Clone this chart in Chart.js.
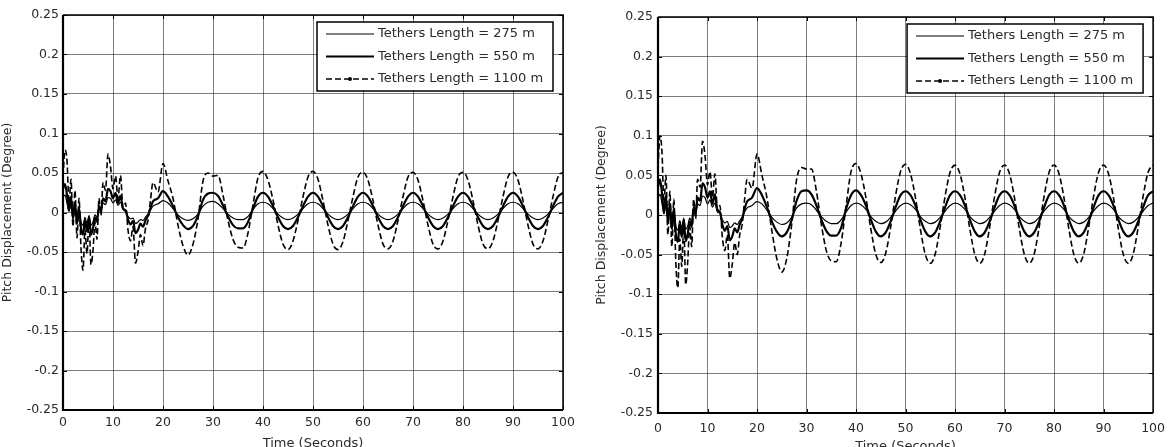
<!DOCTYPE html>
<html><head><meta charset="utf-8">
<script src="https://cdn.jsdelivr.net/npm/chart.js@4.4.1/dist/chart.umd.min.js"></script>
<style>
html,body{margin:0;padding:0;background:#fff;overflow:hidden;}
#wrap{position:relative;width:1173px;height:447px;}
canvas{position:absolute;top:0;}
#cl{left:0;}
#cr{left:586px;}
</style></head><body>
<div id="wrap">
<canvas id="cl" width="586" height="447"></canvas>
<canvas id="cr" width="587" height="447"></canvas>
</div>
<script>
const seriesNames = ['Tethers Length = 275 m', 'Tethers Length = 550 m', 'Tethers Length = 1100 m'];
const xTickValues = [0,10,20,30,40,50,60,70,80,90,100];
const xTickLabels = ['0','10','20','30','40','50','60','70','80','90','100'];
const yTickValues = [-0.25,-0.2,-0.15,-0.1,-0.05,0,0.05,0.1,0.15,0.2,0.25];
const yTickLabels = ['-0.25','-0.2','-0.15','-0.1','-0.05','0','0.05','0.1','0.15','0.2','0.25'];
const xTitle = 'Time (Seconds)';
const yTitle = 'Pitch Displacement (Degree)';

const timeSeconds = [0,0.4,0.8,1.2,1.6,2,2.4,2.8,3.2,3.6,4,4.4,4.8,5.2,5.6,6,6.4,6.8,7.2,7.6,8,
8.5,9,9.5,10,10.5,11,11.5,12,12.5,13,13.5,14,14.5,15,15.5,16,16.5,17,17.5,18,
19,20,21,22,23,24,25,26,27,28,29,30,31,32,33,34,35,36,37,38,39,40,41,42,43,44,45,46,47,48,49,50,
51,52,53,54,55,56,57,58,59,60,61,62,63,64,65,66,67,68,69,70,71,72,73,74,75,76,77,78,79,80,
81,82,83,84,85,86,87,88,89,90,91,92,93,94,95,96,97,98,99,100];

// Left panel
const left275 = [0.02,0.022,0.012,0.002,0.012,-0.004,0.008,-0.008,0.003,-0.012,-0.016,-0.006,-0.014,-0.004,-0.016,-0.012,-0.003,-0.006,0.005,0.002,0.012,
0.01,0.019,0.018,0.012,0.016,0.009,0.013,0.004,0.001,-0.005,-0.008,-0.007,-0.014,-0.012,-0.009,-0.01,-0.006,-0.002,0.003,0.008,
0.011,0.015,0.012,0.005,-0.003,-0.008,-0.01,-0.008,-0.002,0.008,
0.013,0.014,0.011,0.005,-0.002,-0.007,-0.009,-0.009,-0.005,0.004,
0.011,0.013,0.011,0.005,-0.002,-0.007,-0.009,-0.007,-0.002,0.005,
0.011,0.013,0.011,0.005,-0.002,-0.007,-0.009,-0.007,-0.002,0.005,
0.011,0.013,0.011,0.005,-0.002,-0.007,-0.009,-0.007,-0.002,0.005,
0.011,0.013,0.011,0.005,-0.002,-0.007,-0.009,-0.007,-0.002,0.005,
0.011,0.013,0.011,0.005,-0.002,-0.007,-0.009,-0.007,-0.002,0.005,
0.011,0.013,0.011,0.005,-0.002,-0.007,-0.009,-0.007,-0.002,0.005,
0.011,0.013];
const left550 = [0.03,0.036,0.022,0.002,0.02,-0.008,0.012,-0.014,0.006,-0.02,-0.028,-0.01,-0.024,-0.006,-0.028,-0.02,-0.006,-0.012,0.008,0.002,0.018,
0.014,0.03,0.027,0.018,0.025,0.012,0.021,0.005,0.003,-0.009,-0.015,-0.011,-0.026,-0.022,-0.014,-0.018,-0.01,-0.004,0.006,0.014,
0.018,0.027,0.02,0.008,-0.006,-0.016,-0.021,-0.017,-0.004,0.016,
0.024,0.025,0.021,0.009,-0.005,-0.016,-0.02,-0.02,-0.012,0.005,
0.02,0.025,0.02,0.008,-0.006,-0.017,-0.021,-0.017,-0.006,0.008,
0.02,0.025,0.02,0.008,-0.006,-0.017,-0.021,-0.017,-0.006,0.008,
0.02,0.025,0.02,0.008,-0.006,-0.017,-0.021,-0.017,-0.006,0.008,
0.02,0.025,0.02,0.008,-0.006,-0.017,-0.021,-0.017,-0.006,0.008,
0.02,0.025,0.02,0.008,-0.006,-0.017,-0.021,-0.017,-0.006,0.008,
0.02,0.025,0.02,0.008,-0.006,-0.017,-0.021,-0.017,-0.006,0.008,
0.02,0.025];
const left1100 = [0.045,0.079,0.066,0.012,0.042,-0.018,0.028,-0.032,0.018,-0.045,-0.073,-0.022,-0.052,-0.008,-0.066,-0.048,-0.012,-0.034,0.018,-0.004,0.038,
0.028,0.074,0.058,0.03,0.046,0.018,0.047,0.006,0.012,-0.022,-0.036,-0.018,-0.064,-0.05,-0.028,-0.042,-0.02,-0.01,0.016,0.038,
0.026,0.062,0.04,0.018,-0.016,-0.042,-0.054,-0.04,-0.008,0.04,
0.05,0.046,0.047,0.022,-0.01,-0.034,-0.044,-0.045,-0.026,0.01,
0.044,0.052,0.041,0.016,-0.016,-0.04,-0.047,-0.036,-0.01,0.02,
0.045,0.052,0.042,0.015,-0.016,-0.04,-0.047,-0.037,-0.01,0.02,
0.045,0.051,0.041,0.015,-0.016,-0.04,-0.046,-0.036,-0.01,0.02,
0.045,0.051,0.041,0.015,-0.016,-0.04,-0.046,-0.036,-0.01,0.02,
0.045,0.051,0.041,0.015,-0.016,-0.04,-0.046,-0.036,-0.01,0.02,
0.045,0.051,0.041,0.015,-0.016,-0.04,-0.046,-0.036,-0.01,0.02,
0.045,0.051];

// Right panel
const right275 = [0.022,0.026,0.015,0.002,0.014,-0.005,0.009,-0.01,0.004,-0.014,-0.019,-0.007,-0.016,-0.004,-0.018,-0.014,-0.004,-0.008,0.006,0.002,0.014,
0.012,0.024,0.022,0.014,0.019,0.01,0.015,0.004,0.002,-0.006,-0.01,-0.008,-0.016,-0.014,-0.01,-0.012,-0.007,-0.003,0.004,0.009,
0.012,0.017,0.014,0.006,-0.003,-0.009,-0.012,-0.01,-0.003,0.009,
0.014,0.015,0.013,0.006,-0.002,-0.008,-0.011,-0.011,-0.006,0.004,
0.012,0.015,0.013,0.007,-0.002,-0.008,-0.011,-0.009,-0.003,0.005,
0.012,0.015,0.013,0.007,-0.002,-0.008,-0.011,-0.009,-0.003,0.005,
0.012,0.015,0.013,0.007,-0.002,-0.008,-0.011,-0.009,-0.003,0.005,
0.012,0.015,0.013,0.007,-0.002,-0.008,-0.011,-0.009,-0.003,0.005,
0.012,0.015,0.013,0.007,-0.002,-0.008,-0.011,-0.009,-0.003,0.005,
0.012,0.015,0.013,0.007,-0.002,-0.008,-0.011,-0.009,-0.003,0.005,
0.012,0.015];
const right550 = [0.035,0.045,0.028,0.002,0.025,-0.01,0.015,-0.018,0.008,-0.024,-0.034,-0.012,-0.028,-0.006,-0.033,-0.024,-0.008,-0.015,0.01,0.002,0.022,
0.018,0.04,0.035,0.022,0.03,0.014,0.026,0.006,0.004,-0.012,-0.02,-0.014,-0.032,-0.027,-0.017,-0.022,-0.012,-0.005,0.008,0.017,
0.022,0.034,0.025,0.01,-0.008,-0.021,-0.027,-0.022,-0.006,0.018,
0.03,0.031,0.026,0.012,-0.006,-0.02,-0.026,-0.026,-0.016,0.008,
0.025,0.031,0.025,0.012,-0.006,-0.021,-0.027,-0.022,-0.008,0.01,
0.025,0.03,0.025,0.012,-0.006,-0.021,-0.027,-0.022,-0.008,0.01,
0.025,0.03,0.025,0.012,-0.006,-0.021,-0.027,-0.022,-0.008,0.01,
0.025,0.03,0.025,0.012,-0.006,-0.021,-0.027,-0.022,-0.008,0.01,
0.025,0.03,0.025,0.012,-0.006,-0.021,-0.027,-0.022,-0.008,0.01,
0.025,0.03,0.025,0.012,-0.006,-0.021,-0.027,-0.022,-0.008,0.01,
0.025,0.03];
const right1100 = [0.06,0.1,0.08,0.015,0.05,-0.025,0.03,-0.04,0.02,-0.06,-0.092,-0.03,-0.065,-0.012,-0.088,-0.06,-0.015,-0.04,0.02,-0.005,0.045,
0.035,0.093,0.075,0.038,0.055,0.022,0.052,0.006,0.012,-0.028,-0.045,-0.025,-0.08,-0.062,-0.035,-0.05,-0.025,-0.012,0.02,0.045,
0.034,0.077,0.05,0.022,-0.02,-0.055,-0.072,-0.055,-0.012,0.045,
0.06,0.058,0.058,0.03,-0.012,-0.045,-0.058,-0.059,-0.035,0.012,
0.055,0.065,0.052,0.022,-0.018,-0.05,-0.06,-0.048,-0.015,0.025,
0.055,0.064,0.052,0.022,-0.018,-0.05,-0.061,-0.049,-0.015,0.024,
0.054,0.063,0.052,0.022,-0.018,-0.05,-0.061,-0.049,-0.015,0.024,
0.054,0.063,0.052,0.022,-0.018,-0.05,-0.061,-0.049,-0.015,0.024,
0.054,0.063,0.052,0.022,-0.018,-0.05,-0.061,-0.049,-0.015,0.024,
0.054,0.063,0.052,0.022,-0.018,-0.05,-0.061,-0.049,-0.015,0.024,
0.054,0.063];

Chart.defaults.font.family = "'DejaVu Sans', sans-serif";
Chart.defaults.color = '#2a2a2a';

function pts(vals){ return timeSeconds.map((t,i)=>({x:t,y:vals[i]})); }

const framePlugin = {
  id: 'frameLegend',
  afterDraw(chart){
    const ctx = chart.ctx, a = chart.chartArea;
    const xs = chart.scales.x, ys = chart.scales.y;
    ctx.save();
    ctx.strokeStyle = '#000'; ctx.lineWidth = 1;
    ctx.beginPath();
    xTickValues.forEach(v=>{
      const px = Math.round(xs.getPixelForValue(v))+0.5;
      ctx.moveTo(px,a.bottom); ctx.lineTo(px,a.bottom-4);
      ctx.moveTo(px,a.top); ctx.lineTo(px,a.top+4);
    });
    yTickValues.forEach(v=>{
      const py = Math.round(ys.getPixelForValue(v))+0.5;
      ctx.moveTo(a.left,py); ctx.lineTo(a.left+4,py);
      ctx.moveTo(a.right,py); ctx.lineTo(a.right-4,py);
    });
    ctx.stroke();
    ctx.lineWidth = 1.5;
    ctx.beginPath();
    ctx.moveTo(a.left,a.top); ctx.lineTo(a.right,a.top); ctx.lineTo(a.right,a.bottom);
    ctx.stroke();
    ctx.lineWidth = 2.2;
    ctx.beginPath();
    ctx.moveTo(a.left,a.top); ctx.lineTo(a.left,a.bottom); ctx.lineTo(a.right,a.bottom);
    ctx.stroke();
    const bw = 236, bh = 69;
    const bx = a.right - 10 - bw, by = a.top + 7;
    ctx.fillStyle = '#fff';
    ctx.fillRect(bx,by,bw,bh);
    ctx.lineWidth = 1.5; ctx.strokeStyle = '#000';
    ctx.strokeRect(bx,by,bw,bh);
    const rows = [12, 34.5, 57];
    const widths = [1.2, 2.2, 1.6];
    ctx.font = "13px 'DejaVu Sans'";
    ctx.textBaseline = 'middle';
    chart.data.datasets.forEach((ds,i)=>{
      const ry = by + rows[i];
      ctx.strokeStyle = '#000';
      ctx.lineWidth = widths[i];
      ctx.setLineDash(ds.borderDash || []);
      ctx.beginPath(); ctx.moveTo(bx+9,ry); ctx.lineTo(bx+57,ry); ctx.stroke();
      ctx.setLineDash([]);
      if (i===2){ ctx.fillStyle='#000'; ctx.beginPath(); ctx.arc(bx+33,ry,2,0,Math.PI*2); ctx.fill(); }
      ctx.fillStyle = '#2a2a2a';
      ctx.fillText(ds.label, bx+61, ry);
    });
    ctx.restore();
  }
};

function makePanel(id, s275, s550, s1100, L){
  new Chart(document.getElementById(id), {
    type: 'line',
    data: { datasets: [
      {label: seriesNames[0], data: pts(s275), borderColor:'#000', borderWidth:1.2},
      {label: seriesNames[1], data: pts(s550), borderColor:'#000', borderWidth:2.2},
      {label: seriesNames[2], data: pts(s1100), borderColor:'#000', borderWidth:1.6, borderDash:[6,3]}
    ]},
    options: {
      responsive: false, animation: false, devicePixelRatio: 1,
      elements: { point: {radius:0}, line: {cubicInterpolationMode:'monotone', fill:false} },
      layout: { padding: {left:0, top:L.padTop, right:L.padRight, bottom:0} },
      plugins: { legend:{display:false}, tooltip:{enabled:false} },
      scales: {
        x: { type:'linear', min:0, max:100,
          afterBuildTicks: s => { s.ticks = xTickValues.map(v=>({value:v})); },
          afterFit: s => { s.height = L.xHeight; },
          ticks: { callback:(v,i)=>xTickLabels[i], padding:L.xTickPad, maxRotation:0, font:{size:12.5}, color:'#2a2a2a' },
          grid: { color:'rgba(0,0,0,0.5)', lineWidth:1, drawTicks:false },
          border: { display:false },
          title: { display:true, text:xTitle, font:{size:13}, padding:{top:0,bottom:L.xTitlePad}, color:'#2a2a2a' }
        },
        y: { type:'linear', min:-0.25, max:0.25,
          afterBuildTicks: s => { s.ticks = yTickValues.map(v=>({value:v})); },
          afterFit: s => { s.width = L.yWidth; },
          ticks: { callback:(v,i)=>yTickLabels[i], padding:L.yTickPad, font:{size:12.5}, color:'#2a2a2a' },
          grid: { color:'rgba(0,0,0,0.5)', lineWidth:1, drawTicks:false },
          border: { display:false },
          title: { display:true, text:yTitle, font:{size:12.5}, padding:{top:L.yTitlePad,bottom:0}, color:'#2a2a2a' }
        }
      }
    },
    plugins: [framePlugin]
  });
}

makePanel('cl', left275, left550, left1100,
  {padTop:15, padRight:23, yWidth:63, xHeight:37, xTickPad:5, yTickPad:4, yTitlePad:0, xTitlePad:-4});
makePanel('cr', right275, right550, right1100,
  {padTop:17, padRight:13, yWidth:72, xHeight:34, xTickPad:8, yTickPad:5, yTitlePad:8, xTitlePad:-7});
</script>
</body></html>
